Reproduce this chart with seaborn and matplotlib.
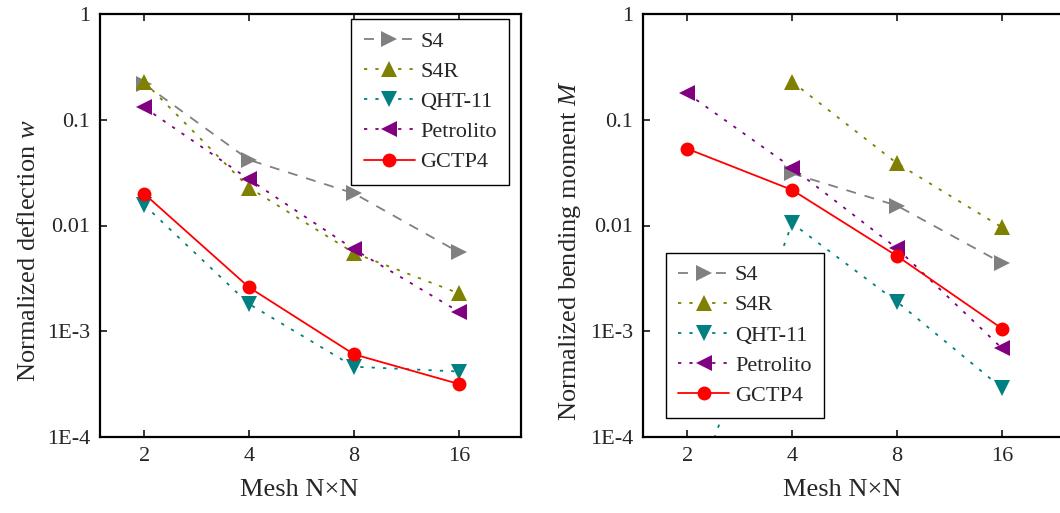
import matplotlib
matplotlib.use("Agg")
import matplotlib.pyplot as plt
import seaborn as sns
import numpy as np
from matplotlib.ticker import FixedLocator, FixedFormatter, NullLocator

mesh = [2, 4, 8, 16]
series = ["S4", "S4R", "QHT-11", "Petrolito", "GCTP4"]

# normalized deflection w
w_s4 = [0.219, 0.0417, 0.0201, 0.00557]
w_s4r = [0.229, 0.0228, 0.0055, 0.00228]
w_qht = [0.0157, 0.00181, 0.000462, 0.000416]
w_petrolito = [0.131, 0.0273, 0.00595, 0.00153]
w_gctp4 = [0.020, 0.0026, 0.000605, 0.000317]

# normalized bending moment M
m_s4 = [np.nan, 0.0311, 0.0154, 0.00442]
m_s4r = [np.nan, 0.229, 0.0387, 0.0096]
m_qht = [1.9e-5, 0.0105, 0.0019, 0.00029]
m_petrolito = [0.178, 0.0352, 0.00608, 0.00069]
m_gctp4 = [0.0533, 0.0217, 0.00515, 0.00106]

ytick_vals = [1e-4, 1e-3, 1e-2, 1e-1, 1]
ytick_labels = ["1E-4", "1E-3", "0.01", "0.1", "1"]

sns.set_style("ticks")
plt.rcParams["font.family"] = ["Liberation Serif", "DejaVu Serif"]
plt.rcParams["mathtext.fontset"] = "custom"
plt.rcParams["mathtext.rm"] = "Liberation Serif"
plt.rcParams["mathtext.it"] = "Liberation Serif:italic"

styles = {
    "S4": dict(color="#808080", marker=">", linestyle=(0, (5.5, 5)), ms=11),
    "S4R": dict(color="#808000", marker="^", linestyle=(0, (1.8, 4.5)), ms=11),
    "QHT-11": dict(color="#008080", marker="v", linestyle=(0, (1.8, 4.5)), ms=11),
    "Petrolito": dict(color="#800080", marker="<", linestyle=(0, (1.8, 4.5)), ms=11),
    "GCTP4": dict(color="#ff0000", marker="o", linestyle="-", ms=10),
}

fig = plt.figure(figsize=(10.6, 5.13), dpi=100)
ax1 = fig.add_axes([100 / 1060, 76 / 513, 421 / 1060, 423 / 513])
ax2 = fig.add_axes([643 / 1060, 76 / 513, 421 / 1060, 423 / 513])


def draw(ax, data, ylabel, legend_loc, anchor):
    for name, vals in zip(series, data):
        st = styles[name]
        sns.lineplot(x=mesh, y=vals, ax=ax, color=st["color"], marker=st["marker"],
                     linestyle=st["linestyle"], linewidth=1.3, markersize=st["ms"],
                     markeredgewidth=0, label=name)
    ax.set_xscale("log", base=2)
    ax.set_yscale("log")
    ax.set_xlim(1.495, 24.1)
    ax.set_ylim(1e-4, 1)
    ax.xaxis.set_major_locator(FixedLocator(mesh))
    ax.xaxis.set_major_formatter(FixedFormatter([str(m) for m in mesh]))
    ax.xaxis.set_minor_locator(NullLocator())
    ax.yaxis.set_major_locator(FixedLocator(ytick_vals))
    ax.yaxis.set_major_formatter(FixedFormatter(ytick_labels))
    ax.yaxis.set_minor_locator(NullLocator())
    ax.tick_params(axis="both", direction="in", labelsize=16, width=1.3, length=5,
                   top=True, right=False, pad=7)
    for sp in ax.spines.values():
        sp.set_linewidth(1.6)
        sp.set_color("black")
    ax.set_xlabel("Mesh N\u00d7N", fontsize=19)
    ax.set_ylabel(ylabel, fontsize=19)
    ax.xaxis.set_label_coords(0.473, -0.099)
    ax.yaxis.set_label_coords(-0.1425, 0.44)
    leg = ax.legend(loc=legend_loc, bbox_to_anchor=anchor, fontsize=16, frameon=True,
                    fancybox=False, framealpha=1, handlelength=2.3, borderpad=0.55,
                    labelspacing=0.43, handletextpad=0.25, borderaxespad=0)
    leg.get_frame().set_edgecolor("black")
    leg.get_frame().set_linewidth(1.0)
    return leg


draw(ax1, [w_s4, w_s4r, w_qht, w_petrolito, w_gctp4],
     r"Normalized deflection $\mathit{w}$", "upper right", (0.9715, 0.988))
draw(ax2, [m_s4, m_s4r, m_qht, m_petrolito, m_gctp4],
     r"Normalized bending moment $\mathit{M}$", "lower left", (0.0546, 0.045))

fig.savefig("out.png", dpi=100)
